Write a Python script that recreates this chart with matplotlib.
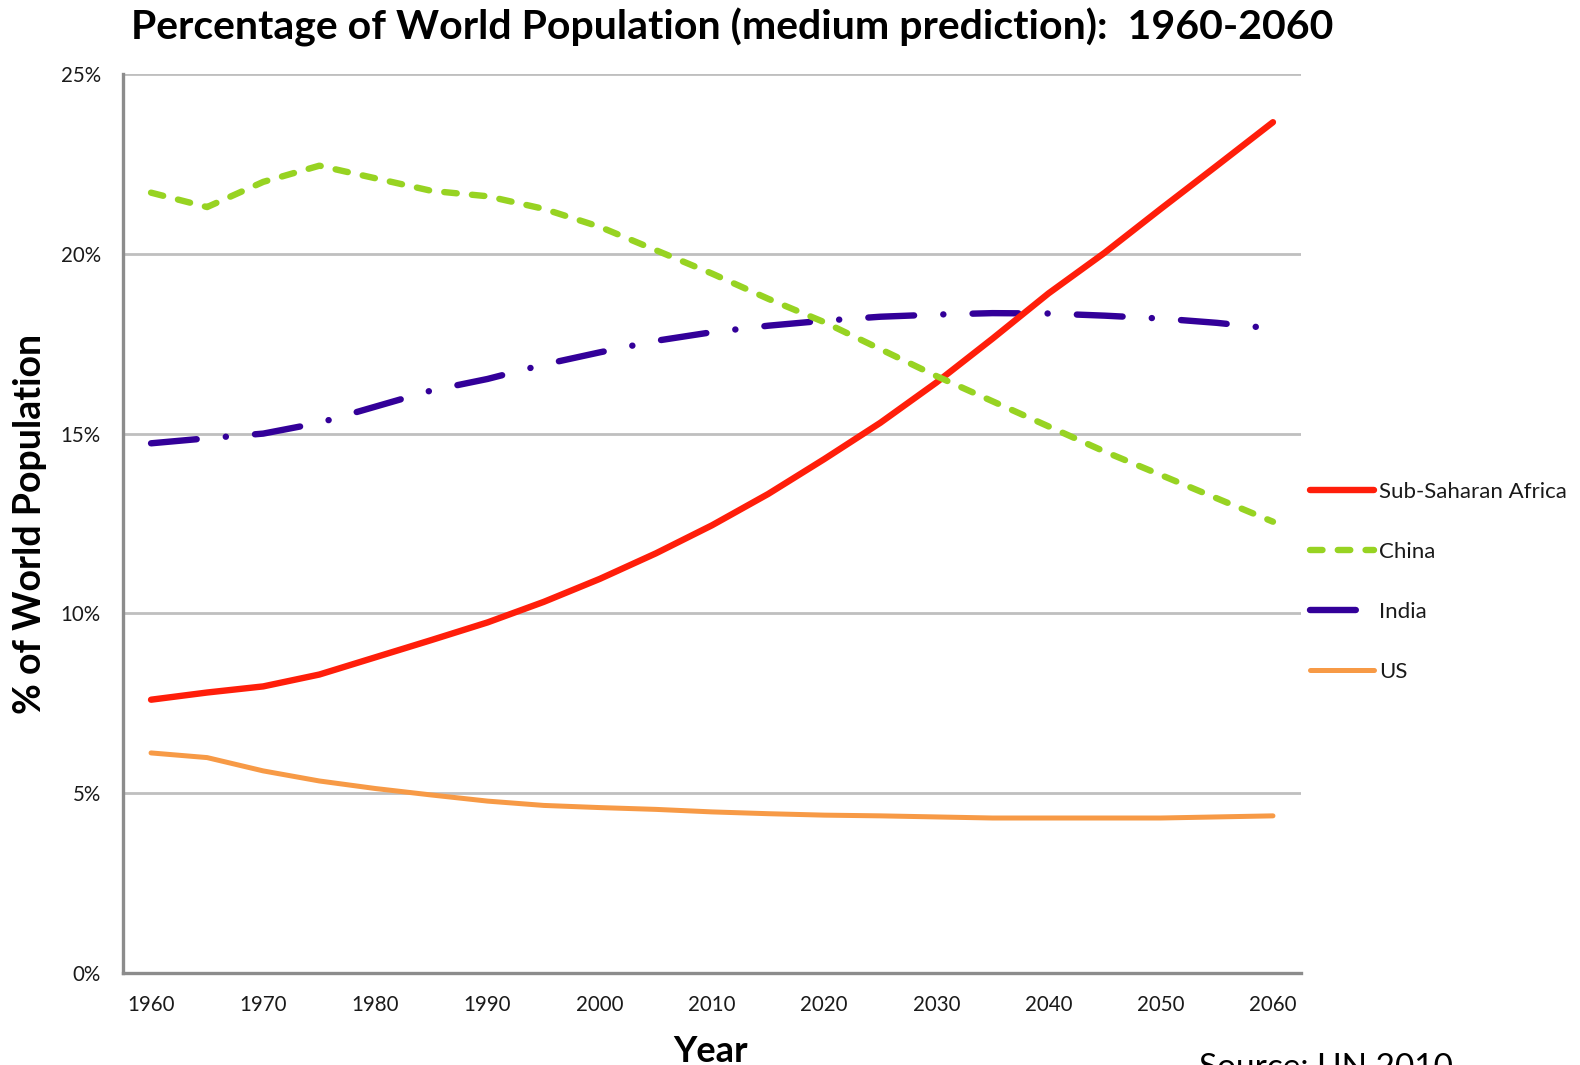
import matplotlib
matplotlib.use("Agg")
import matplotlib.pyplot as plt

plt.rcParams["font.family"] = ["Lato", "DejaVu Sans"]
plt.rcParams["lines.scale_dashes"] = False

# UN 2010 medium-variant shares of world population (%)
years = [1960, 1965, 1970, 1975, 1980, 1985, 1990, 1995, 2000, 2005, 2010,
         2015, 2020, 2025, 2030, 2035, 2040, 2045, 2050, 2055, 2060]
sub_saharan_africa = [7.60, 7.80, 7.97, 8.30, 8.78, 9.26, 9.75, 10.32, 10.96, 11.67, 12.45,
                      13.32, 14.29, 15.30, 16.42, 17.64, 18.90, 20.03, 21.25, 22.45, 23.66]
china = [21.70, 21.30, 22.00, 22.45, 22.10, 21.75, 21.60, 21.25, 20.75, 20.10, 19.45,
         18.75, 18.10, 17.35, 16.60, 15.90, 15.20, 14.50, 13.85, 13.20, 12.55]
india = [14.73, 14.87, 15.00, 15.30, 15.75, 16.20, 16.52, 16.92, 17.26, 17.58, 17.82,
         18.00, 18.14, 18.25, 18.31, 18.35, 18.34, 18.28, 18.20, 18.08, 17.92]
us = [6.12, 5.99, 5.62, 5.34, 5.13, 4.95, 4.78, 4.66, 4.60, 4.55, 4.48,
      4.43, 4.39, 4.37, 4.34, 4.31, 4.31, 4.31, 4.31, 4.34, 4.37]

series_names = ["Sub-Saharan Africa", "China", "India", "US"]
x_ticks = [1960, 1970, 1980, 1990, 2000, 2010, 2020, 2030, 2040, 2050, 2060]
y_ticks = [0, 5, 10, 15, 20, 25]
y_tick_labels = ["0%", "5%", "10%", "15%", "20%", "25%"]

W, H = 1580, 1065
fig = plt.figure(figsize=(W / 100, H / 100), dpi=100)
ax = fig.add_axes([123 / W, (H - 973) / H, (1301 - 123) / W, (973 - 74) / H])

text_color = "#1a1a1a"

ax.plot(years, india, color="#330099", lw=4.6, solid_capstyle="round",
        dash_capstyle="round", dashes=(33, 21, 0.1, 21), zorder=2,
        label=series_names[2])
ax.plot(years, us, color="#F79A46", lw=3.6, solid_capstyle="round", zorder=2,
        label=series_names[3])
ax.plot(years, sub_saharan_africa, color="#FF1E0A", lw=4.6,
        solid_capstyle="round", zorder=3, label=series_names[0])
ax.plot(years, china, color="#97D322", lw=4.6, dash_capstyle="round",
        dashes=(9, 11), zorder=4, label=series_names[1])

ax.set_xlim(1957.5, 2062.5)
ax.set_ylim(0, 25)
ax.set_xticks(x_ticks)
ax.set_xticklabels([str(v) for v in x_ticks])
ax.set_yticks(y_ticks)
ax.set_yticklabels(y_tick_labels)
ax.tick_params(axis="both", length=0, labelsize=14.8, colors=text_color)
ax.tick_params(axis="y", pad=16)
ax.tick_params(axis="x", pad=16)

ax.set_axisbelow(True)
ax.grid(axis="y", color="#BFBFBF", lw=2.0)
ax.grid(axis="x", visible=False)
for side in ("top", "right"):
    ax.spines[side].set_visible(False)
for side in ("left", "bottom"):
    ax.spines[side].set_color("#8C8C8C")
    ax.spines[side].set_linewidth(2.4)

handles, labels = ax.get_legend_handles_labels()
order = [labels.index(n) for n in series_names]
leg = ax.legend([handles[i] for i in order], [labels[i] for i in order],
                loc="upper left", bbox_to_anchor=(1310 / W, 1 - 482 / H),
                bbox_transform=fig.transFigure, frameon=False, fontsize=16,
                handlelength=2.9, handletextpad=0.2, labelspacing=1.8,
                borderpad=0, borderaxespad=0)
for t in leg.get_texts():
    t.set_color(text_color)

fig.text(732 / W, 1 - 27 / H,
         "Percentage of World Population (medium prediction):  1960-2060",
         ha="center", va="center", fontsize=29.5, fontweight="bold", color="black")
fig.text(30 / W, 1 - 524 / H, "% of World Population", rotation=90,
         ha="center", va="center", fontsize=27, fontweight="bold", color="black")
fig.text(711 / W, (H - 1062) / H, "Year", ha="center", va="baseline",
         fontsize=26, fontweight="bold", color="black")
fig.text(1199 / W, (H - 1077) / H, "Source: UN 2010", ha="left", va="baseline",
         fontsize=24, color="black")

fig.savefig("out.png", dpi=100, facecolor="white")
